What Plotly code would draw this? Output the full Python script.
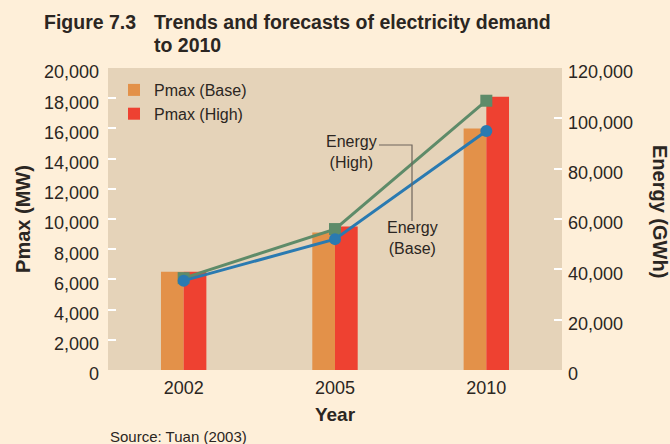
import plotly.graph_objects as go

years = ["2002", "2005", "2010"]
pmax_base = [6500, 9100, 16000]
pmax_high = [6500, 9500, 18100]
energy_base = [35500, 52000, 95000]
energy_high = [36500, 56000, 107000]

left_ticks = [0, 2000, 4000, 6000, 8000, 10000, 12000, 14000, 16000, 18000, 20000]
right_ticks = [0, 20000, 40000, 60000, 80000, 100000, 120000]

PAPER = "#FEEFD9"
PLOT = "#E5D3B9"
TXT = "#2B2622"
FONT = "Liberation Sans, Arial, sans-serif"

L, R, T, B = 108, 562, 68, 370
PW, PH = R - L, B - T


def px(xp, yp):
    return (xp - L) / PW, 1 - (yp - T) / PH


fig = go.Figure()
fig.add_trace(go.Bar(x=years, y=pmax_base, name="Pmax (Base)", marker_color="#E39149",
                     marker_line_width=0))
fig.add_trace(go.Bar(x=years, y=pmax_high, name="Pmax (High)", marker_color="#EE4131",
                     marker_line_width=0))
fig.add_trace(go.Scatter(x=years, y=energy_high, yaxis="y2", mode="lines+markers",
                         name="Energy (High)", showlegend=False,
                         line=dict(color="#5E8B69", width=3),
                         marker=dict(symbol="square", size=12, color="#5E8B69")))
fig.add_trace(go.Scatter(x=years, y=energy_base, yaxis="y2", mode="lines+markers",
                         name="Energy (Base)", showlegend=False,
                         line=dict(color="#2A7AB1", width=3),
                         marker=dict(symbol="circle", size=12, color="#2A7AB1")))

fig.update_layout(
    width=670, height=444,
    margin=dict(l=L, r=670 - R, t=T, b=444 - B),
    paper_bgcolor=PAPER, plot_bgcolor=PLOT,
    font=dict(family=FONT, color=TXT, size=18),
    barmode="group", bargap=0.7, bargroupgap=0,
    showlegend=True,
    legend=dict(x=px(114, 0)[0], y=px(0, 73)[1], xanchor="left", yanchor="top",
                bgcolor="rgba(0,0,0,0)", font=dict(size=16, color=TXT),
                tracegroupgap=0, itemwidth=30),
    xaxis=dict(type="category", showgrid=False, zeroline=False, showline=False,
               ticks="", tickfont=dict(size=18, color=TXT), ticklabelstandoff=5,
               title=dict(text="<b>Year</b>", font=dict(size=19, color=TXT), standoff=10)),
    yaxis=dict(range=[0, 20000], tickvals=left_ticks, tickformat=",d",
               showgrid=False, zeroline=False, showline=False,
               ticks="inside", ticklen=8, tickcolor="white", tickwidth=2,
               tickfont=dict(size=18, color=TXT), ticklabelshift=4,
               ticklabelstandoff=8,
               title=dict(text="<b>Pmax (MW)</b>", font=dict(size=20, color=TXT), standoff=7)),
    yaxis2=dict(range=[0, 120000], tickvals=right_ticks, tickformat=",d",
                overlaying="y", side="right",
                showgrid=False, zeroline=False, showline=False,
                ticks="inside", ticklen=8, tickcolor="white", tickwidth=2,
                tickfont=dict(size=18, color=TXT), ticklabelshift=4,
                ticklabelstandoff=5),
)

anns = []
for text, xp, yp in [("<b>Figure 7.3</b>", 42, 22),
                     ("<b>Trends and forecasts of electricity demand</b>", 152, 22),
                     ("<b>to 2010</b>", 152, 45)]:
    x, y = px(xp, yp)
    anns.append(dict(text=text, x=x, y=y, xref="paper", yref="paper",
                     xanchor="left", yanchor="middle", showarrow=False,
                     font=dict(size=19.5, color=TXT, family=FONT)))
x, y = px(660, 211)
anns.append(dict(text="<b>Energy (GWh)</b>", textangle=90, x=x, y=y,
                 xref="paper", yref="paper", xanchor="center", yanchor="middle",
                 showarrow=False, font=dict(size=20, color=TXT, family=FONT)))
x, y = px(108, 436)
anns.append(dict(text="Source: Tuan (2003)", x=x, y=y,
                 xref="paper", yref="paper", xanchor="left", yanchor="middle",
                 showarrow=False, font=dict(size=15, color=TXT, family=FONT)))
x, y = px(351, 152)
anns.append(dict(text="Energy<br>(High)", x=x, y=y,
                 xref="paper", yref="paper", xanchor="center", yanchor="middle",
                 showarrow=False, font=dict(size=16, color=TXT, family=FONT)))
x, y = px(412, 238)
anns.append(dict(text="Energy<br>(Base)", x=x, y=y,
                 xref="paper", yref="paper", xanchor="center", yanchor="middle",
                 showarrow=False, font=dict(size=16, color=TXT, family=FONT)))
fig.update_layout(annotations=anns)

x0, y0 = px(379, 145)
x1, y1 = px(412, 145)
x2, y2 = px(412, 221)
fig.add_shape(type="path", xref="paper", yref="paper",
              path=f"M {x0},{y0} L {x1},{y1} L {x2},{y2}",
              line=dict(color="#6E655C", width=1.2))

fig.write_html("out.html", config={"displayModeBar": False},
               post_script="document.body.style.margin='0';document.body.style.background='" + PAPER + "';")
